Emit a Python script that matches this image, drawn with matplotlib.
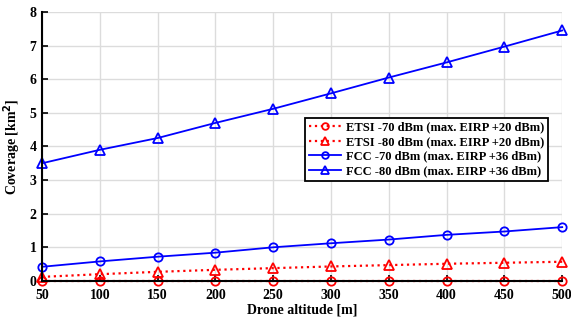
import matplotlib

matplotlib.use("Agg")
import matplotlib.pyplot as plt

altitude = [50, 100, 150, 200, 250, 300, 350, 400, 450, 500]
etsi_70 = [0.01, 0.01, 0.01, 0.01, 0.01, 0.01, 0.01, 0.01, 0.01, 0.01]
etsi_80 = [0.12, 0.2, 0.27, 0.33, 0.38, 0.43, 0.47, 0.51, 0.54, 0.57]
fcc_70 = [0.42, 0.58, 0.72, 0.84, 1.0, 1.12, 1.23, 1.37, 1.47, 1.6]
fcc_80 = [3.5, 3.9, 4.25, 4.7, 5.12, 5.58, 6.05, 6.5, 6.97, 7.45]

plt.rcParams["font.family"] = ["Liberation Serif", "DejaVu Serif"]
plt.rcParams["font.weight"] = "bold"

fig = plt.figure(figsize=(5.71, 3.24), dpi=100)
ax = fig.add_axes([0.0736, 0.133, 0.911, 0.83])

ax.plot(altitude, etsi_70, ":", color="red", marker="o", mfc="none", ms=6, mew=1.3, lw=1.6,
        clip_on=False, label="ETSI -70 dBm (max. EIRP +20 dBm)")
ax.plot(altitude, etsi_80, ":", color="red", marker="^", mfc="none", ms=7, mew=1.3, lw=1.6,
        clip_on=False, label="ETSI -80 dBm (max. EIRP +20 dBm)")
ax.plot(altitude, fcc_70, "-", color="blue", marker="o", mfc="none", ms=6, mew=1.3, lw=1.3,
        clip_on=False, label="FCC -70 dBm (max. EIRP +36 dBm)")
ax.plot(altitude, fcc_80, "-", color="blue", marker="^", mfc="none", ms=7, mew=1.3, lw=1.3,
        clip_on=False, label="FCC -80 dBm (max. EIRP +36 dBm)")

ax.set_xlim(50, 500)
ax.set_ylim(0, 8)
ax.set_xticks(altitude)
ax.set_yticks(range(0, 9))
ax.grid(True, color="#dcdcdc", lw=1.0)
ax.set_axisbelow(True)
for side in ["top", "right"]:
    ax.spines[side].set_visible(False)
for side in ["left", "bottom"]:
    ax.spines[side].set_linewidth(1.5)
ax.tick_params(labelsize=10, width=1.2, length=4, direction="in")
ax.tick_params(axis="x", pad=6)
ax.tick_params(axis="y", pad=4)
for lbl in ax.get_xticklabels() + ax.get_yticklabels():
    lbl.set_fontweight("bold")

ax.set_xlabel("Drone altitude [m]", fontsize=10, fontweight="bold", labelpad=1)
ax.set_ylabel("Coverage [km$^2$]", fontsize=10, fontweight="bold", labelpad=5)

leg = ax.legend(loc="upper right", bbox_to_anchor=(0.985, 0.63),
                prop={"weight": "bold", "size": 9}, fancybox=False, framealpha=1,
                edgecolor="black", handlelength=2.6, borderpad=0.3, labelspacing=0.2,
                handletextpad=0.4, markerscale=0.8)
leg.get_frame().set_linewidth(1.3)

fig.savefig("out.png", dpi=100)
